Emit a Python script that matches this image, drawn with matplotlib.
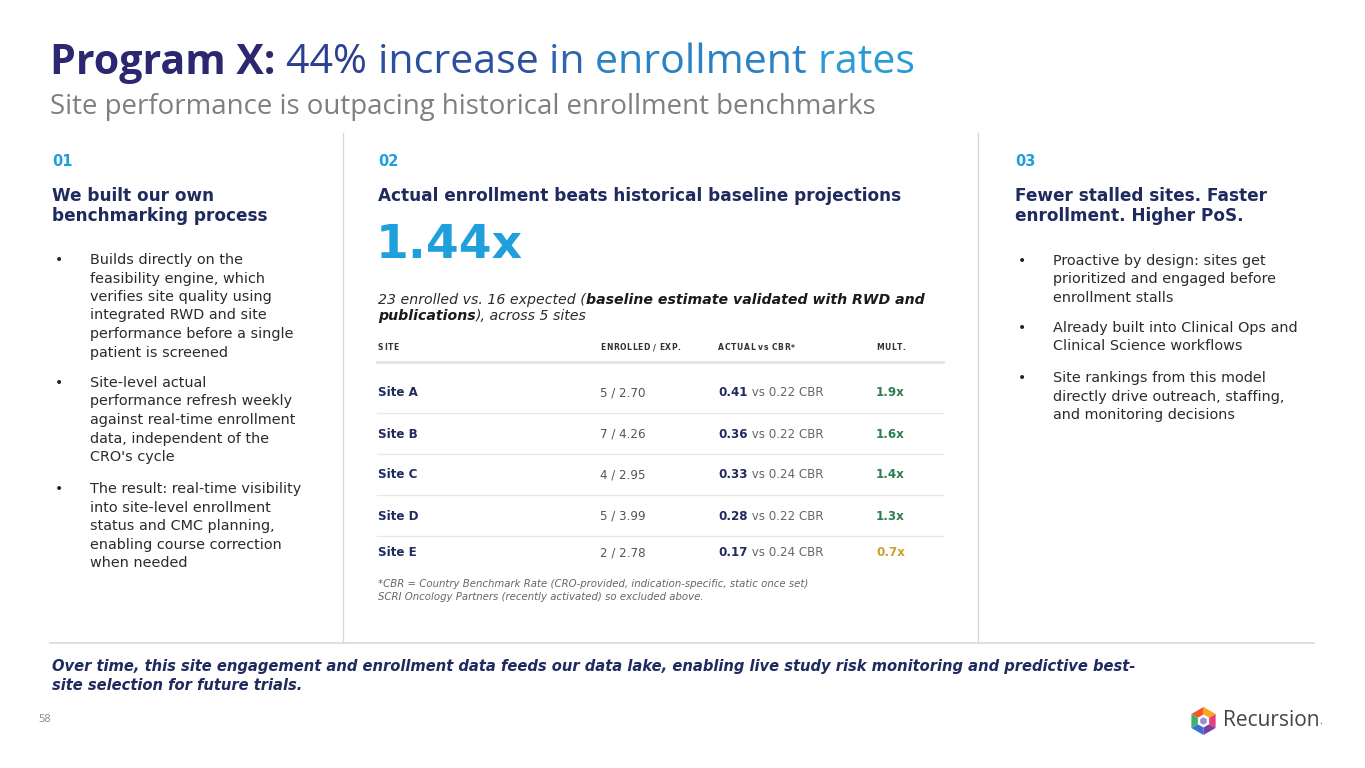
import numpy as np
import matplotlib
matplotlib.use('Agg')
import matplotlib.pyplot as plt
from matplotlib.patches import Polygon

NAVY = '#1f2a5e'
TITLE_NAVY = '#2b2770'
BLUE = '#1fa0dc'
GRAY = '#404040'
LIGHT = '#d9d9d9'

title_bold = 'Program X:'
title_rest = ['44%', 'increase', 'in', 'enrollment', 'rates']
subtitle = 'Site performance is outpacing historical enrollment benchmarks'

col_nums = ['01', '02', '03']
col1_head = ['We built our own', 'benchmarking process']
col1_bullets = [
    ['Builds directly on the', 'feasibility engine, which', 'verifies site quality using',
     'integrated RWD and site', 'performance before a single', 'patient is screened'],
    ['Site-level actual', 'performance refresh weekly', 'against real-time enrollment',
     'data, independent of the', "CRO's cycle"],
    ['The result: real-time visibility', 'into site-level enrollment',
     'status and CMC planning,', 'enabling course correction', 'when needed'],
]
col2_head = 'Actual enrollment beats historical baseline projections'
big_number = '1.44x'
col3_head = ['Fewer stalled sites. Faster', 'enrollment. Higher PoS.']
col3_bullets = [
    ['Proactive by design: sites get', 'prioritized and engaged before', 'enrollment stalls'],
    ['Already built into Clinical Ops and', 'Clinical Science workflows'],
    ['Site rankings from this model', 'directly drive outreach, staffing,', 'and monitoring decisions'],
]

table_cols = ['SITE', 'ENROLLED / EXP.', 'ACTUAL vs CBR*', 'MULT.']
sites = ['Site A', 'Site B', 'Site C', 'Site D', 'Site E']
enrolled = [5, 7, 4, 5, 2]
expected = [2.70, 4.26, 2.95, 3.99, 2.78]
actual = [0.41, 0.36, 0.33, 0.28, 0.17]
cbr = [0.22, 0.22, 0.24, 0.22, 0.24]
mult = [1.9, 1.6, 1.4, 1.3, 0.7]

footnotes = ['*CBR = Country Benchmark Rate (CRO-provided, indication-specific, static once set)',
             'SCRI Oncology Partners (recently activated) so excluded above.']
bottom_lines = ['Over time, this site engagement and enrollment data feeds our data lake, enabling live study risk monitoring and predictive best-',
                'site selection for future trials.']

fig = plt.figure(figsize=(13.65, 7.68), dpi=100, facecolor='white')
ax = fig.add_axes([0, 0, 1, 1])
ax.set_xlim(0, 1365)
ax.set_ylim(768, 0)
ax.axis('off')
renderer = fig.canvas.get_renderer()


def width_of(t):
    bb = t.get_window_extent(renderer=renderer)
    return bb.width


def runs(x, y, parts, va='center', **kw):
    # draw pieces of text one after the other on the same line
    for txt, style in parts:
        opts = dict(kw)
        opts.update(style)
        t = ax.text(x, y, txt, va=va, ha='left', **opts)
        x += width_of(t)
    return x


def spaced(x, y, txt, track, **kw):
    # letter-spaced caps for the table header
    for ch in txt:
        if ch == ' ':
            x += 2 + track
            continue
        t = ax.text(x, y, ch, va='center', ha='left', **kw)
        x += width_of(t) + track
    return x


def fit(x, y, txt, target, size, **kw):
    t = ax.text(x, y, txt, fontsize=size, **kw)
    w = width_of(t)
    t.set_fontsize(size * target / w)
    return t


# title
tfont = 'Open Sans'
t = fit(50, 63, title_bold + ' ' + ' '.join(title_rest), 850, 30, family=tfont,
        va='center', ha='left', color='white')
ts = t.get_fontsize()
t.remove()
grad = ['#2c3f93', '#2d4f9f', '#2c66b0', '#2a82c4', '#2a9bd6']
xx = runs(50, 63, [(title_bold + ' ', dict(fontweight='bold', color=TITLE_NAVY))],
          family=tfont, fontsize=ts)
for word, c in zip(title_rest, grad):
    xx = runs(xx, 63, [(word + ' ', dict(color=c))], family=tfont, fontsize=ts)

fit(50, 107, subtitle, 823, 20, family=tfont, va='center', ha='left', color='#7f7f7f')

# separators
ax.plot([343, 343], [133, 643], color=LIGHT, lw=1)
ax.plot([978, 978], [133, 643], color=LIGHT, lw=1)
ax.plot([50, 1314], [643, 643], color=LIGHT, lw=1.2)

body = dict(family='DejaVu Sans')
HEAD = 12.2
BODY = 10.35

# column headers
for cx, num in zip([52, 378, 1015], col_nums):
    ax.text(cx, 161, num, fontsize=10.5, fontweight='bold', color=BLUE, va='center', **body)

for i, line in enumerate(col1_head):
    ax.text(52, 196 + i * 20, line, fontsize=HEAD, fontweight='bold', color=NAVY, va='center', **body)
for i, line in enumerate(col3_head):
    ax.text(1015, 196 + i * 20, line, fontsize=HEAD, fontweight='bold', color=NAVY, va='center', **body)
ax.text(378, 196, col2_head, fontsize=HEAD, fontweight='bold', color=NAVY, va='center', **body)


def bullets(xdot, xtxt, starts, groups):
    for y0, grp in zip(starts, groups):
        ax.text(xdot, y0, '\u2022', fontsize=10, color='#222222', va='center', **body)
        for j, line in enumerate(grp):
            ax.text(xtxt, y0 + j * 18.5, line, fontsize=BODY, color='#2b2b2b', va='center', **body)


bullets(55, 90, [260, 383, 489], col1_bullets)
bullets(1018, 1053, [261, 328, 378], col3_bullets)

# big number
ax.text(376, 246, big_number, fontsize=34, fontweight='bold', color=BLUE, va='center', **body)

ital = dict(fontstyle='italic', color='#2b2b2b')
boldital = dict(fontstyle='italic', fontweight='bold', color='#1a1a1a')
runs(378, 300, [('23 enrolled vs. 16 expected (', ital),
                ('baseline estimate validated with RWD and', boldital)], fontsize=10.2, **body)
runs(378, 316, [('publications', boldital), ('), across 5 sites', ital)], fontsize=10.2, **body)

# table
col_x = [378, 600, 718, 876]
for cxp, lab in zip(col_x, table_cols):
    spaced(cxp, 348, lab, 0.6, fontsize=5.5, fontweight='bold', color='#333333', **body)
ax.plot([377, 943], [362, 362], color='#e4e4e4', lw=2)

row_y = [393, 434, 475, 516, 553]
for k in range(len(sites)):
    y = row_y[k]
    ax.text(col_x[0], y, sites[k], fontsize=8.6, fontweight='bold', color=NAVY, va='center', **body)
    ax.text(col_x[1], y, f'{enrolled[k]} / {expected[k]:.2f}', fontsize=8.6, color='#555555',
            va='center', **body)
    runs(col_x[2], y, [(f'{actual[k]:.2f}', dict(fontweight='bold', color=NAVY)),
                       (f' vs {cbr[k]:.2f} CBR', dict(color='#666666'))], fontsize=8.6, **body)
    mc = '#2e7d4f' if mult[k] >= 1 else '#c9a227'
    ax.text(col_x[3], y, f'{mult[k]:.1f}x', fontsize=8.6, fontweight='bold', color=mc,
            va='center', **body)
    if k < len(sites) - 1:
        ax.plot([377, 943], [y + 20, y + 20], color='#e8e8e8', lw=1)

for i, line in enumerate(footnotes):
    ax.text(378, 584 + i * 13, line, fontsize=7.25, fontstyle='italic', color='#666666',
            va='center', **body)

# bottom statement
for i, line in enumerate(bottom_lines):
    ax.text(52, 667 + i * 19, line, fontsize=10.65, fontstyle='italic', fontweight='bold',
            color=NAVY, va='center', **body)

ax.text(38, 720, '58', fontsize=8, color='#888888', va='center', family='Open Sans')

# logo
cx, cy, r = 1203.5, 721, 14
seg_colors = ['#f7a81b', '#e8407a', '#7b3fa0', '#3b6fd1', '#3db26b', '#f05a28']
angs = np.deg2rad(90 - 60 * np.arange(7))
for s in range(6):
    pts = [(cx, cy), (cx + r * np.cos(angs[s]), cy - r * np.sin(angs[s])),
           (cx + r * np.cos(angs[s + 1]), cy - r * np.sin(angs[s + 1]))]
    ax.add_patch(Polygon(pts, closed=True, color=seg_colors[s], lw=0))
ri = 6.5
inner = [(cx + ri * np.cos(a), cy - ri * np.sin(a)) for a in angs[:6]]
ax.add_patch(Polygon(inner, closed=True, color='white', lw=0))
rc = 3.8
cube = [(cx + rc * np.cos(a), cy - rc * np.sin(a)) for a in angs[:6]]
ax.add_patch(Polygon(cube, closed=True, color='#9b8fd0', lw=0))
lt = fit(1223, 721, 'Recursion', 97, 15, family='Open Sans', color='#444444', va='center', ha='left')
ax.text(1223 + width_of(lt), 721, '.', fontsize=8, color='#444444', va='center', family='Open Sans')

fig.savefig('out.png', dpi=100, facecolor='white')
